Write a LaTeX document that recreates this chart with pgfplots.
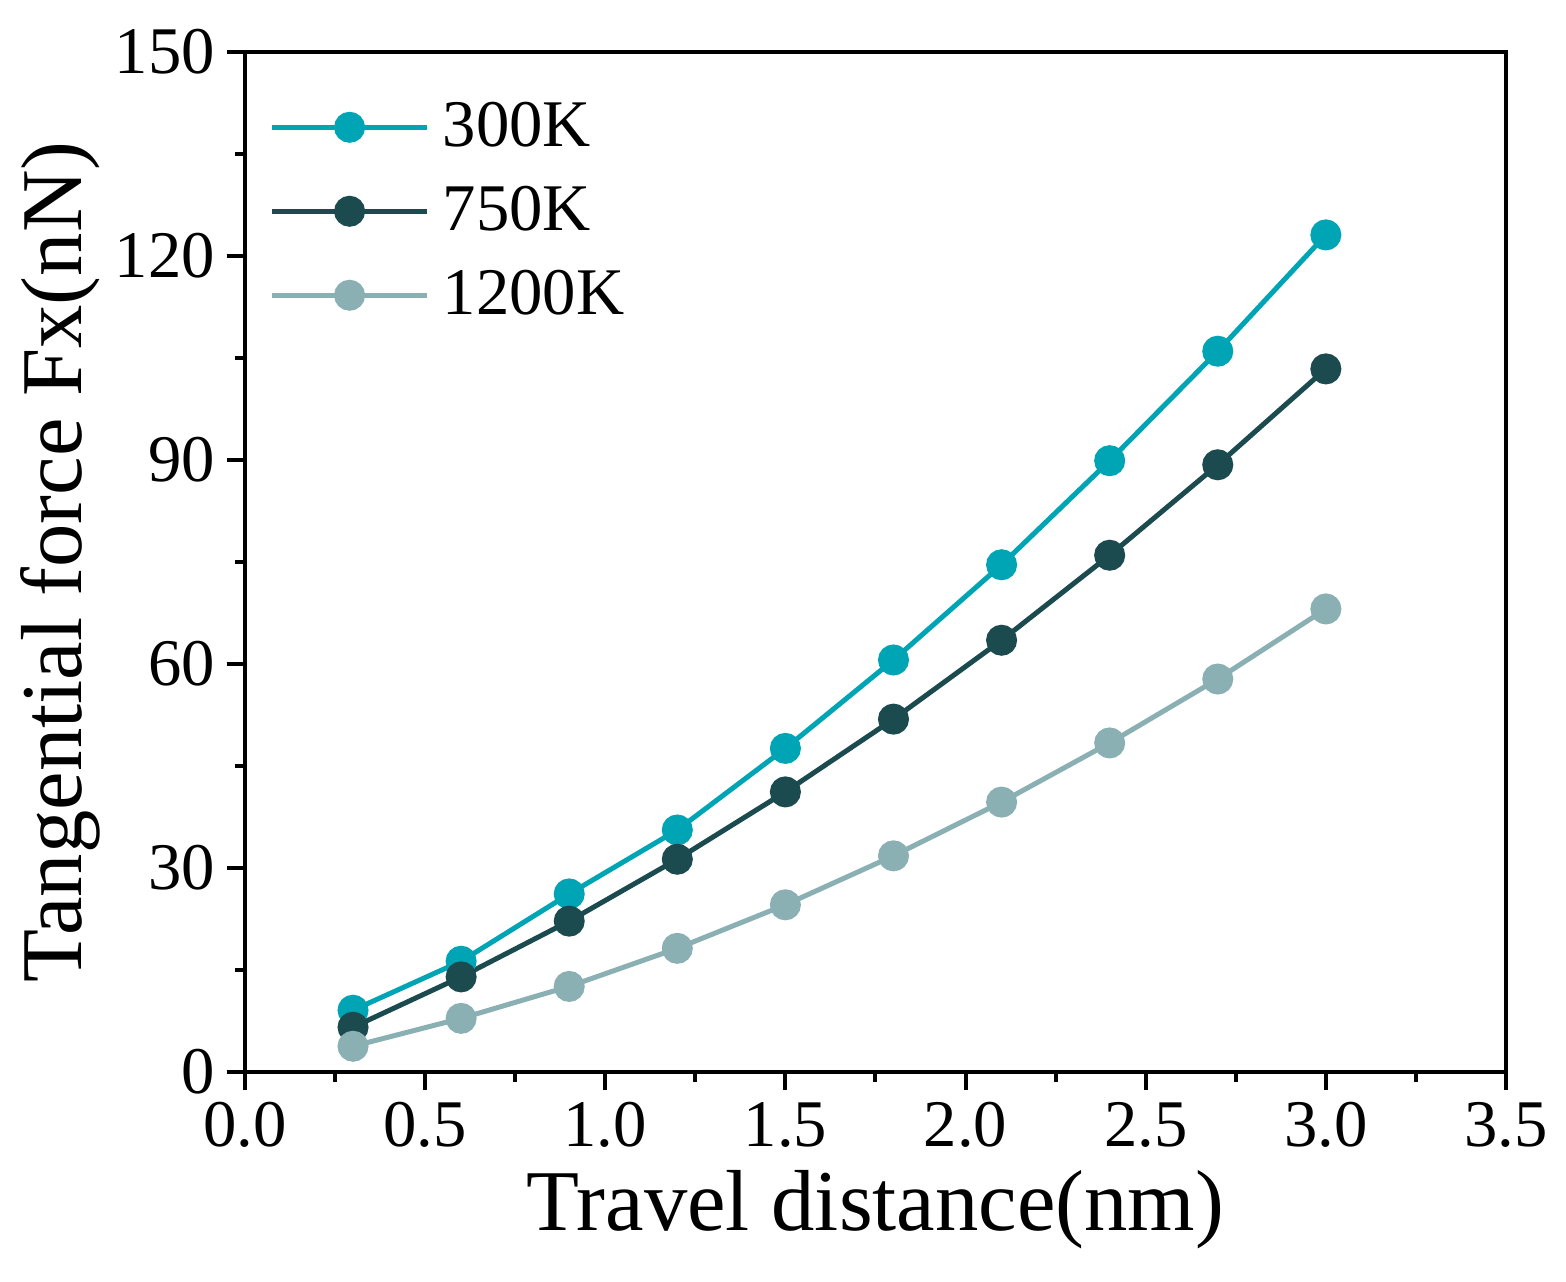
\documentclass[border=0pt]{standalone}
\usepackage{fontspec}
\setmainfont{Liberation Serif}
\usepackage{pgfplots}
\pgfplotsset{compat=1.18}
\definecolor{cA}{HTML}{00A5B5}
\definecolor{cB}{HTML}{1B4A4F}
\definecolor{cC}{HTML}{8AB0B4}
\begin{document}
\begin{tikzpicture}
\begin{axis}[
  at={(0,0)}, anchor=south west,
  scale only axis, width=378.4pt, height=306.1pt,
  xmin=0, xmax=3.5, ymin=0, ymax=150,
  xtick={0,0.5,...,3.5}, ytick={0,30,...,150},
  minor x tick num=1, minor y tick num=1,
  xticklabels={0.0,0.5,1.0,1.5,2.0,2.5,3.0,3.5},
  tick align=outside, tick pos=left,
  major tick length=5.5pt, minor tick length=3pt,
  every tick/.style={black, line width=1.2pt},
  axis line style={line width=1.2pt},
  /pgf/number format/assume math mode=true,
  tick label style={font=\fontsize{20}{24}\selectfont},
  xlabel={Travel distance(nm)}, ylabel={Tangential force Fx(nN)},
  label style={font=\fontsize{26}{30}\selectfont},
  ylabel style={yshift=-2.5pt},
  legend style={draw=none, fill=none, at={(4.2pt,306.1pt-11pt)}, anchor=north west,
    font=\fontsize{20}{24}\selectfont, row sep=6.4pt, cells={anchor=west},
    nodes={inner xsep=4pt}},
  legend cell align=left,
  legend image code/.code={\draw[#1, mark repeat=2, mark phase=2] plot coordinates {(0pt,0pt)(23.25pt,0pt)(46.5pt,0pt)};},
  every axis plot/.append style={line width=1.5pt, mark=*, mark size=3.9pt},
]
\addplot[cA, mark options={fill=cA, draw=cA}] coordinates {
(0.3,9.1)(0.6,16.3)(0.9,26.2)(1.2,35.6)(1.5,47.6)(1.8,60.6)(2.1,74.6)(2.4,89.9)(2.7,106.0)(3.0,123.1)};
\addlegendentry{300K}
\addplot[cB, mark options={fill=cB, draw=cB}] coordinates {
(0.3,6.6)(0.6,14.0)(0.9,22.2)(1.2,31.3)(1.5,41.2)(1.8,51.9)(2.1,63.5)(2.4,76.0)(2.7,89.3)(3.0,103.4)};
\addlegendentry{750K}
\addplot[cC, mark options={fill=cC, draw=cC}] coordinates {
(0.3,3.8)(0.6,7.9)(0.9,12.6)(1.2,18.2)(1.5,24.6)(1.8,31.8)(2.1,39.7)(2.4,48.4)(2.7,57.8)(3.0,68.1)};
\addlegendentry{1200K}
\end{axis}
\pgfresetboundingbox
\path (-73.5pt,-62.7pt) rectangle (396.4pt,321.7pt);
\end{tikzpicture}
\end{document}
